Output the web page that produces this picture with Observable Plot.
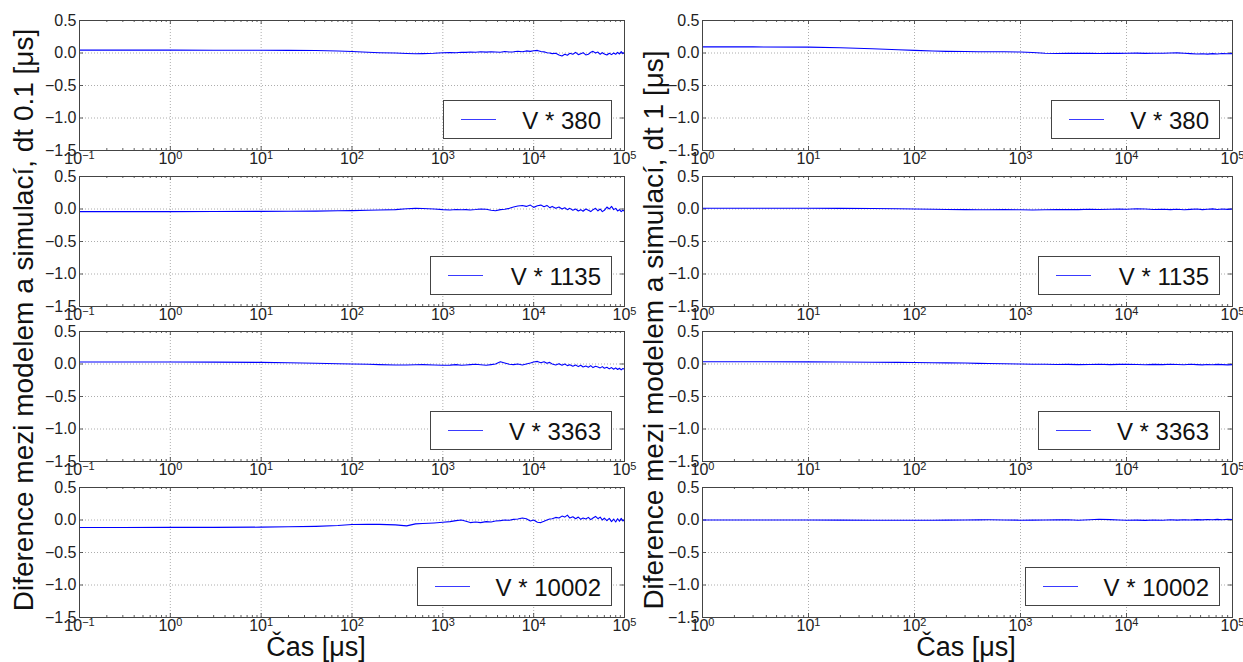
<!DOCTYPE html>
<html><head><meta charset="utf-8">
<script src="https://cdn.jsdelivr.net/npm/d3@7"></script>
<script src="https://cdn.jsdelivr.net/npm/@observablehq/plot@0.6"></script>
<style>
body{margin:0;background:#fff;}
#fig{position:relative;width:1243px;height:662px;overflow:hidden;background:#fff;font-family:"Liberation Sans",Arial,sans-serif;color:#111;}
.panel{position:absolute;}
.legend{position:absolute;height:39px;box-sizing:border-box;border:1px solid #444;background:#fff;white-space:nowrap;}
.lgline{position:absolute;left:17px;top:18px;width:35px;height:1px;background:#3a3aff;}
.lgtext{position:absolute;right:10px;top:8px;font-size:24px;line-height:1;color:#111;}
.ylab{position:absolute;font-size:28px;line-height:1;white-space:nowrap;transform:translate(-50%,-50%) rotate(-90deg);color:#111;}
.xlab{position:absolute;font-size:27px;line-height:1;white-space:nowrap;transform:translateX(-50%);color:#111;}
</style></head>
<body><div id="fig"></div>
<script>
// ---- data ----
const yTicks = [-1.5, -1.0, -0.5, 0.0, 0.5];
const yLabelLeft = "Diference mezi modelem a simulací, dt 0.1 [μs]";
const yLabelRight = "Diference mezi modelem a simulací, dt 1 [μs]";
const xLabel = "Čas [μs]";
const legendLabels = ["V * 380", "V * 1135", "V * 3363", "V * 10002"];
const legendWidths = [169, 182, 182, 195];

const tLeft = [0.1,0.3,1,3,10,20,40,70,100,150,200,300,400,500,600,800,1000,1200,1400,1600,1800,2000,2300,2600,3000,3400,3800,4300,4800,5400,6000,6700,7500,8300,9200,10000,11000,12000,13000,14000,15000,16000,17500,19000,20500,22000,23500,25000,27000,29000,31000,33000,35000,37500,40000,42500,45000,48000,51000,54000,57000,60000,64000,68000,72000,76000,80000,84000,88000,92000,96000,100000];

const left380 = [0.045,0.045,0.044,0.043,0.042,0.041,0.038,0.03,0.022,0.012,0.005,0.0,-0.008,-0.012,-0.01,-0.004,0.005,0.008,0.005,0.012,0.01,0.015,0.012,0.02,0.014,0.02,0.016,0.012,0.022,0.015,0.018,0.028,0.02,0.032,0.025,0.035,0.04,0.022,0.018,0.005,0.0,-0.01,-0.005,-0.03,-0.045,-0.02,-0.035,-0.005,-0.02,0.01,-0.025,-0.01,0.005,-0.03,-0.02,0.01,0.025,0.0,0.015,-0.02,0.005,-0.015,-0.03,-0.005,-0.025,0.0,-0.02,0.01,-0.015,0.02,-0.01,0.01];
const left1135 = [-0.04,-0.04,-0.04,-0.039,-0.037,-0.035,-0.032,-0.028,-0.025,-0.02,-0.015,-0.01,0.005,0.01,0.008,0.0,-0.01,-0.015,-0.008,-0.012,-0.01,-0.015,-0.008,0.0,-0.005,-0.02,-0.028,-0.01,-0.005,0.01,0.03,0.045,0.055,0.04,0.06,0.025,0.05,0.06,0.035,0.055,0.02,0.04,0.01,0.03,0.0,0.02,-0.01,0.01,-0.02,0.0,-0.03,-0.01,-0.035,0.0,-0.02,-0.04,-0.01,0.01,-0.03,0.0,-0.04,-0.02,0.03,0.0,0.04,-0.01,0.01,-0.03,-0.01,-0.04,-0.02,-0.035];
const left3363 = [0.03,0.03,0.03,0.029,0.025,0.02,0.012,0.005,0.0,-0.005,-0.01,-0.015,-0.015,-0.012,-0.01,-0.015,-0.02,-0.018,-0.01,-0.02,-0.015,-0.01,-0.005,-0.012,-0.02,-0.01,0.0,0.035,0.015,-0.005,-0.01,0.0,-0.015,0.0,0.015,0.03,0.04,0.02,0.035,0.01,0.025,0.0,-0.015,0.005,-0.02,0.0,-0.025,-0.01,-0.035,-0.015,-0.04,-0.02,-0.045,-0.03,-0.05,-0.025,-0.055,-0.035,-0.045,-0.06,-0.04,-0.065,-0.05,-0.075,-0.055,-0.08,-0.06,-0.085,-0.065,-0.09,-0.07,-0.08];
const left10002 = [-0.115,-0.115,-0.114,-0.113,-0.11,-0.105,-0.098,-0.085,-0.07,-0.065,-0.068,-0.075,-0.09,-0.06,-0.055,-0.045,-0.035,-0.025,-0.01,0.0,-0.02,-0.04,-0.03,-0.04,-0.025,-0.03,-0.015,-0.01,0.0,-0.005,0.01,0.015,0.03,0.02,-0.015,0.0,-0.035,-0.04,-0.02,0.0,0.015,0.02,0.04,0.03,0.06,0.045,0.075,0.03,0.05,0.02,0.045,0.01,0.03,0.015,0.04,0.005,0.03,0.055,0.02,0.045,0.0,0.03,-0.01,0.025,-0.025,0.015,-0.03,0.02,-0.02,0.025,-0.015,0.005];

const tRight = [1,3,10,20,40,70,100,150,200,300,400,500,700,1000,1300,1700,2200,2800,3500,4500,5500,7000,8500,10000,12500,15000,18000,22000,26000,30000,35000,40000,46000,52000,58000,65000,72000,80000,90000,100000];

const right380 = [0.095,0.094,0.09,0.08,0.065,0.05,0.04,0.03,0.025,0.022,0.02,0.02,0.02,0.015,0.008,-0.005,-0.008,-0.005,-0.006,-0.004,-0.007,-0.003,-0.006,-0.004,-0.002,-0.006,-0.003,-0.005,0.0,0.002,-0.004,-0.01,-0.015,-0.012,-0.018,-0.01,-0.015,-0.008,-0.012,-0.01];
const right1135 = [0.012,0.012,0.011,0.01,0.008,0.005,0.0,-0.005,-0.008,-0.01,-0.012,-0.012,-0.01,-0.012,-0.015,-0.012,-0.01,-0.008,-0.01,-0.005,-0.008,-0.005,0.0,-0.005,0.005,0.0,-0.008,-0.003,-0.01,-0.004,-0.012,-0.006,0.0,-0.01,-0.004,0.002,-0.008,0.0,-0.006,0.0];
const right3363 = [0.035,0.034,0.032,0.03,0.028,0.025,0.022,0.02,0.018,0.015,0.01,0.008,0.004,0.0,-0.003,-0.005,-0.008,-0.006,-0.01,-0.008,-0.005,-0.01,-0.006,-0.004,-0.008,-0.012,-0.006,-0.01,-0.004,-0.008,-0.012,-0.005,-0.01,-0.014,-0.008,-0.012,-0.006,-0.01,-0.014,-0.01];
const right10002 = [0.0,0.0,-0.001,-0.002,-0.003,-0.004,-0.004,-0.003,-0.002,0.0,0.002,0.003,0.0,-0.003,-0.002,-0.001,0.002,0.004,-0.005,0.005,0.012,0.006,0.0,-0.004,-0.002,-0.006,0.0,-0.003,0.003,-0.002,0.004,0.0,0.006,0.002,0.008,0.004,0.01,0.005,0.01,0.008];

const leftSeries = [left380, left1135, left3363, left10002];
const rightSeries = [right380, right1135, right3363, right10002];

// ---- layout ----
const fig = document.getElementById("fig");
const rowTops = [20, 175.7, 331.3, 487];
const H = 130;
const cols = [{L: 79, W: 545, xdom: [0.1, 1e5]}, {L: 702, W: 530, xdom: [1, 1e5]}];
const mL = 45, mR = 22, mT = 10, mB = 28;

function supFix(svg) {
  d3.select(svg).selectAll("text").each(function() {
    const m = this.textContent.match(/^10\^(-?\d+)$/);
    if (m) {
      this.textContent = "10";
      d3.select(this).append("tspan").attr("dy", "-0.42em").attr("font-size", "11px")
        .text(m[1].replace("-", "\u2212"));
    }
  });
}

function panel(col, row, times, values, label, lgW) {
  const {L, W, xdom} = cols[col];
  const T = rowTops[row];
  const lo = Math.round(Math.log10(xdom[0]));
  const decades = 5 - lo;
  const majors = d3.range(lo, 6).map(k => Math.pow(10, k));
  const minors = [];
  for (let k = lo; k < 5; k++) for (let m = 2; m <= 9; m++) minors.push(m * Math.pow(10, k));
  const unitsPerPx = 2 / H;
  const majLen = 4 * unitsPerPx, minLen = 2 * unitsPerPx;
  const xf = Math.pow(10, 4 / (W / decades));
  const data = times.map((t, i) => ({t, v: values[i]}));
  const tickStyle = {stroke: "#333", strokeWidth: 0.8};
  const grid = {stroke: "#666", strokeOpacity: 0.9, strokeWidth: 0.6, strokeDasharray: "1,2"};
  const svg = Plot.plot({
    width: W + mL + mR, height: H + mT + mB,
    marginLeft: mL, marginRight: mR, marginTop: mT, marginBottom: mB,
    style: {background: "transparent", overflow: "visible", fontFamily: "'Liberation Sans', Arial, sans-serif", color: "#222"},
    x: {type: "log", domain: xdom},
    y: {domain: [-1.5, 0.5]},
    marks: [
      Plot.gridX(majors, grid),
      Plot.gridY(yTicks, grid),
      Plot.ruleX(majors, {y1: -1.5, y2: -1.5 + majLen, ...tickStyle}),
      Plot.ruleX(majors, {y1: 0.5, y2: 0.5 - majLen, ...tickStyle}),
      Plot.ruleX(minors, {y1: -1.5, y2: -1.5 + minLen, ...tickStyle}),
      Plot.ruleX(minors, {y1: 0.5, y2: 0.5 - minLen, ...tickStyle}),
      Plot.ruleY(yTicks, {x1: xdom[0], x2: xdom[0] * xf, ...tickStyle}),
      Plot.ruleY(yTicks, {x1: xdom[1], x2: xdom[1] / xf, ...tickStyle}),
      Plot.line(data, {x: "t", y: "v", stroke: "#0000ff", strokeWidth: 1.1}),
      Plot.frame({stroke: "#444", strokeWidth: 1}),
      Plot.axisX(majors, {tickSize: 0, tickPadding: 2, fontSize: 16, label: null,
        tickFormat: d => "10^" + Math.round(Math.log10(d))}),
      Plot.axisY(yTicks, {tickSize: 0, tickPadding: 3, fontSize: 16, label: null,
        tickFormat: d => (d < 0 ? "\u2212" : "") + Math.abs(d).toFixed(1)})
    ]
  });
  supFix(svg);
  const wrap = document.createElement("div");
  wrap.className = "panel";
  wrap.style.left = (L - mL) + "px";
  wrap.style.top = (T - mT) + "px";
  wrap.style.width = (W + mL + mR) + "px";
  wrap.appendChild(svg);
  fig.appendChild(wrap);

  const lg = document.createElement("div");
  lg.className = "legend";
  lg.style.left = (L + W - 12 - lgW) + "px";
  lg.style.width = lgW + "px";
  lg.style.top = Math.round(T + H - 11 - 39) + "px";
  lg.innerHTML = '<div class="lgline"></div><span class="lgtext"></span>';
  lg.querySelector(".lgtext").textContent = label;
  fig.appendChild(lg);
}

for (let r = 0; r < 4; r++) {
  panel(0, r, tLeft, leftSeries[r], legendLabels[r], legendWidths[r]);
  panel(1, r, tRight, rightSeries[r], legendLabels[r], legendWidths[r]);
}

function addLabel(cls, text, x, y) {
  const d = document.createElement("div");
  d.className = cls;
  d.textContent = text;
  d.style.left = x + "px";
  d.style.top = y + "px";
  fig.appendChild(d);
}
addLabel("ylab", yLabelLeft, 23.5, 319.5);
addLabel("ylab", yLabelRight, 653.5, 330);
addLabel("xlab", xLabel, 316, 634);
addLabel("xlab", xLabel, 966, 634);
</script>
</body></html>
